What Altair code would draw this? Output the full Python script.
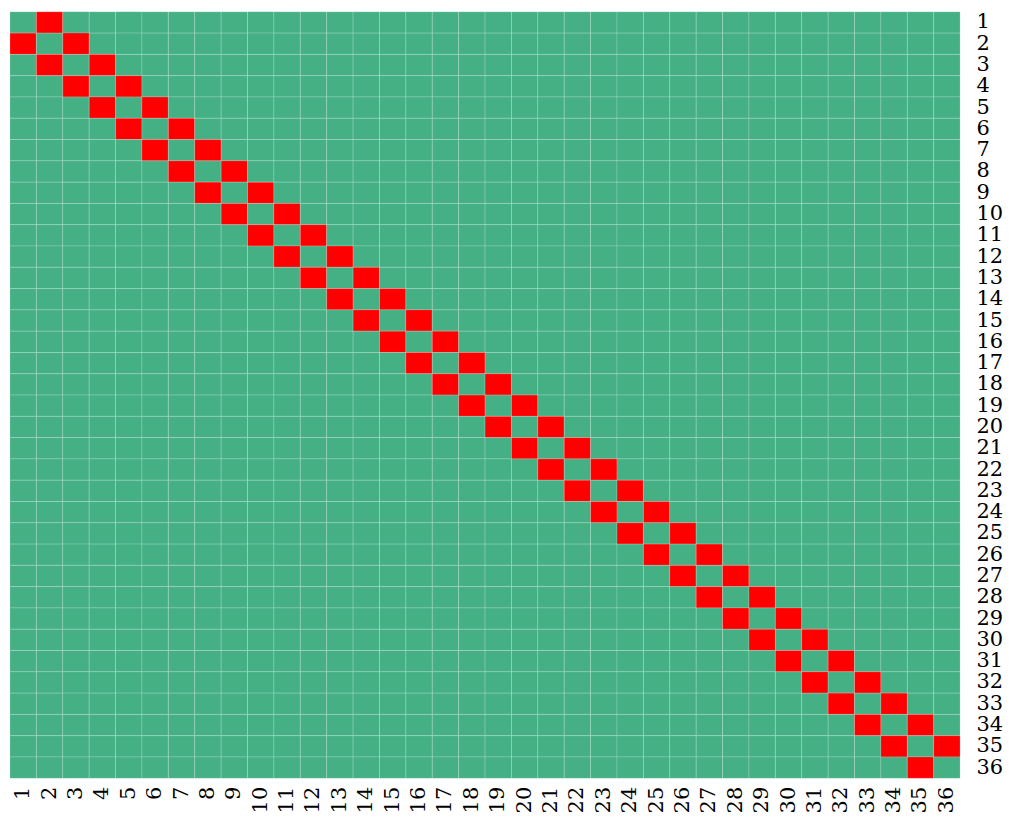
import altair as alt
import pandas as pd

labels = list(range(1, 37))

# red cells (row, column)
red_cells = [
    (1, 2), (2, 1), (2, 3), (3, 2), (3, 4), (4, 3), (4, 5), (5, 4), (5, 6), (6, 5),
    (6, 7), (7, 6), (7, 8), (8, 7), (8, 9), (9, 8), (9, 10), (10, 9), (10, 11), (11, 10),
    (11, 12), (12, 11), (12, 13), (13, 12), (13, 14), (14, 13), (14, 15), (15, 14), (15, 16), (16, 15),
    (16, 17), (17, 16), (17, 18), (18, 17), (18, 19), (19, 18), (19, 20), (20, 19), (20, 21), (21, 20),
    (21, 22), (22, 21), (22, 23), (23, 22), (23, 24), (24, 23), (24, 25), (25, 24), (25, 26), (26, 25),
    (26, 27), (27, 26), (27, 28), (28, 27), (28, 29), (29, 28), (29, 30), (30, 29), (30, 31), (31, 30),
    (31, 32), (32, 31), (32, 33), (33, 32), (33, 34), (34, 33), (34, 35), (35, 34), (35, 36), (36, 35),
]

red_set = set(red_cells)
rows = []
for r in labels:
    for c in labels:
        rows.append({"row": r, "col": c, "v": 1 if (r, c) in red_set else 0})
df = pd.DataFrame(rows)

font = "DejaVu Serif"
fs = 21

chart = alt.Chart(df).mark_rect(
    stroke="white", strokeWidth=0.6, strokeOpacity=0.3
).encode(
    x=alt.X("col:O", sort=labels,
            scale=alt.Scale(paddingInner=0, paddingOuter=0),
            axis=alt.Axis(title=None, labelAngle=270, domain=False, ticks=False,
                          labelPadding=8, labelFont=font, labelFontSize=fs,
                          labelColor="black")),
    y=alt.Y("row:O", sort=labels,
            scale=alt.Scale(paddingInner=0, paddingOuter=0),
            axis=alt.Axis(title=None, orient="right", domain=False, ticks=False,
                          labelPadding=16, labelFont=font, labelFontSize=fs,
                          labelColor="black")),
    color=alt.Color("v:N", scale=alt.Scale(domain=[0, 1], range=["#44B084", "#FF0000"]),
                    legend=None),
).properties(
    width=952, height=768,
    padding={"left": 1, "top": 2, "right": 0, "bottom": 0},
).configure_view(stroke=None)

chart.save("out.html", embed_options={"renderer": "svg", "actions": False})
